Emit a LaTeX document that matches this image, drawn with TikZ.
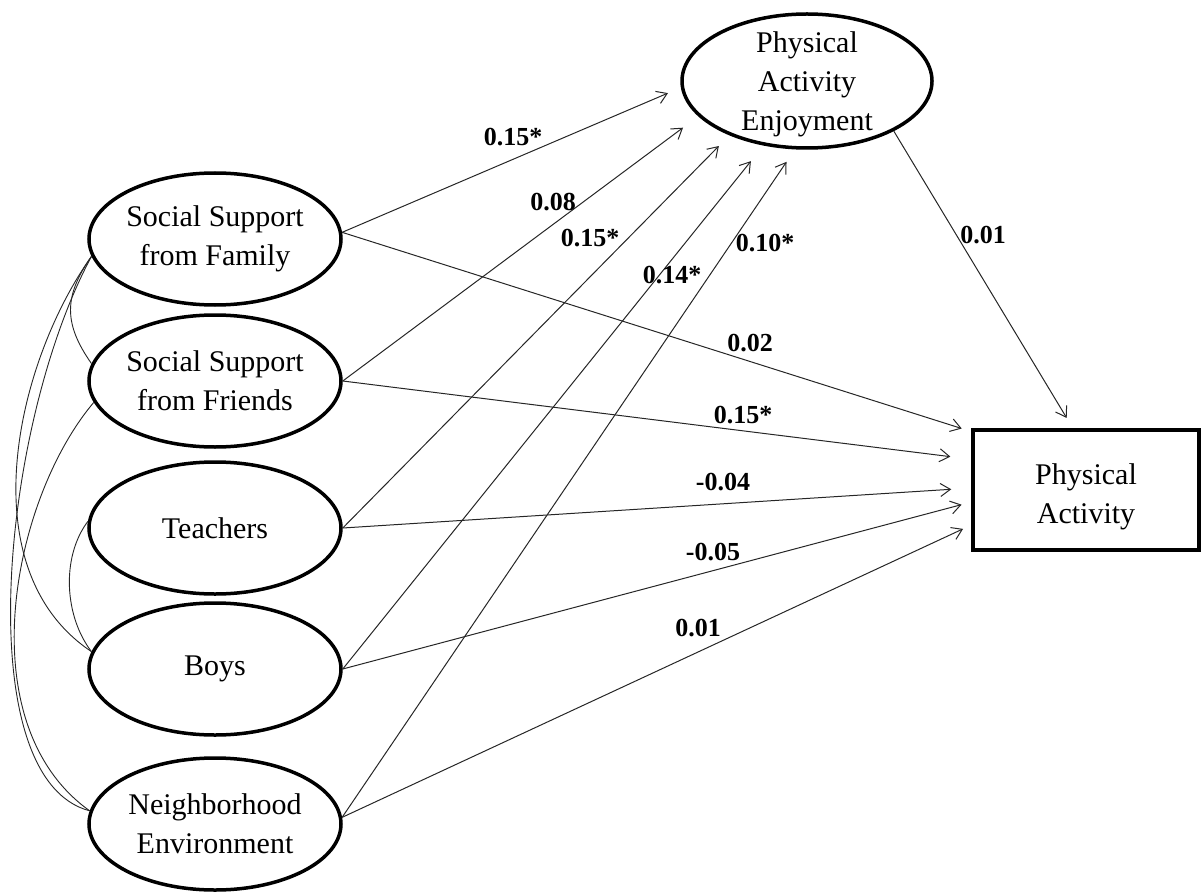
\documentclass[tikz,border=0pt]{standalone}
\usepackage{fontspec}
\setmainfont{Liberation Serif}
\usetikzlibrary{shapes.geometric, arrows.meta, positioning}
\newcommand{\Cf}[1]{\textbf{#1}}

\begin{document}
\begin{tikzpicture}[x=1pt, y=-1pt,
    font=\fontsize{30}{39}\selectfont,
    lat/.style={ellipse, draw, line width=3.5pt, minimum width=252pt, minimum height=132pt, inner sep=0pt, align=center},
    obs/.style={rectangle, draw, line width=3.5pt, minimum width=226pt, minimum height=120pt, inner sep=0pt},
    flecha/.style={-{Straight Barb[length=10pt,width=13pt]}, line width=1pt, draw=black!85},
    cov/.style={line width=0.9pt, draw=black!85},
    coef/.style={font=\fontsize{26}{30}\selectfont}]
        \useasboundingbox (0,0) rectangle (1201,893);
        % Variables de la izquierda
        \node[lat] (fam) at (215,239) {Social Support\\from Family};
        \node[lat] (fr) at (215,381) {Social Support\\from Friends};
        \node[lat] (tea) at (215,528) {Teachers};
        \node[lat] (boy) at (215,669) {Boys};
        \node[lat] (nb) at (215,824) {Neighborhood\\Environment};
        % Mediador arriba
        \node[lat, minimum width=250pt, minimum height=134pt] (enj) at (807,81) {};
        \node[align=center] (enjtxt) at (807,84) {Physical\\Activity\\Enjoyment};
        % Resultado a la derecha
        \node[obs] (pa) at (1086,490) {};
        \node[align=center] (patxt) at (1086,497) {Physical\\Activity};
        % Flechas hacia el mediador
        \draw[flecha, shorten >=14pt] (fam.3) -- (enj.183);
        \draw[flecha, shorten >=19pt] (fr.east) -- (enj.198);
        \draw[flecha, shorten >=15pt] (tea.east) -- (enj.215);
        \draw[flecha, shorten >=20pt] (boy.east) -- (enj.236);
        \draw[flecha, shorten >=15pt] (nb.3) -- (enj.260);
        % Flechas hacia el resultado
        \draw[flecha, shorten >=10pt] (fam.3) -- (pa.153);
        \draw[flecha, shorten >=21pt] (fr.east) -- (pa.165.5);
        \draw[flecha, shorten >=20pt] (tea.east) -- (pa.179.4);
        \draw[flecha, shorten >=10pt] (boy.east) -- (pa.186.8);
        \draw[flecha, shorten >=9pt] (nb.3) -- (pa.197.8);
        \draw[flecha, shorten >=12pt] (enj.330) -- (pa.102);
        % Covarianzas
        \draw[cov] (fam.188) .. controls +(-28,40) and +(-28,-40) .. (fr.172);
        \draw[cov] (fam.188) .. controls +(-76,107) and +(-123,-82) .. (boy.172);
        \draw[cov] (fam.188) .. controls +(-90,167) and +(-122,-32) .. (nb.174);
        \draw[cov] (fr.190) .. controls +(-82,97) and +(-122,-87) .. (nb.174);
        \draw[cov] (tea.177) .. controls +(-27,36) and +(-27,-35) .. (boy.172);
        % Coeficientes
        \node[coef] (c1) at (513,137) {\Cf{0.15*}};
        \node[coef] (c2) at (553,202) {\Cf{0.08}};
        \node[coef] (c3) at (590,238) {\Cf{0.15*}};
        \node[coef] (c4) at (672,275) {\Cf{0.14*}};
        \node[coef] (c5) at (765,243) {\Cf{0.10*}};
        \node[coef] (c6) at (750,343) {\Cf{0.02}};
        \node[coef] (c7) at (743,415) {\Cf{0.15*}};
        \node[coef] (c8) at (723,482) {\Cf{-0.04}};
        \node[coef] (c9) at (713,552) {\Cf{-0.05}};
        \node[coef] (c10) at (698,628) {\Cf{0.01}};
        \node[coef] (c11) at (983,235) {\Cf{0.01}};
    \end{tikzpicture}
\end{document}
